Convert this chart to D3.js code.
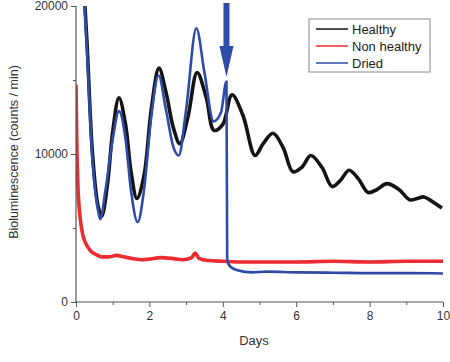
<!DOCTYPE html>
<html>
<head>
<meta charset="utf-8">
<script src="https://cdn.jsdelivr.net/npm/d3@7"></script>
<style>
  body { margin: 0; background: #fff; }
  svg { font-family: "Liberation Sans", Arial, sans-serif; }
</style>
</head>
<body>
<script>
// values
let healthyDays = [0.15,0.3,0.45,0.6,0.7,0.85,1.0,1.17,1.35,1.5,1.66,1.85,2.05,2.26,2.45,2.65,2.83,3.05,3.3,3.55,3.76,4.0,4.25,4.55,4.88,5.1,5.37,5.65,5.91,6.15,6.4,6.7,6.98,7.2,7.44,7.7,7.96,8.2,8.47,8.8,9.1,9.3,9.48,9.7,9.97];
let healthyVals = [24000,17500,10000,6500,5800,7800,11500,13800,12000,8800,7000,8500,13000,15800,14200,11800,10700,12500,15500,13800,11600,12000,14000,12600,9900,10700,11400,10400,8800,9100,9900,9100,7800,8200,8900,8300,7400,7600,8000,7600,6900,7000,7100,6800,6350];

let nonHealthyDays = [0,0.02,0.05,0.1,0.15,0.2,0.3,0.4,0.55,0.7,0.9,1.1,1.3,1.5,1.8,2.0,2.3,2.6,2.9,3.15,3.25,3.35,3.6,4,4.5,5,6,7,8,9,10];
let nonHealthyVals = [14700,11000,8000,6000,5000,4400,3800,3450,3200,3050,3050,3150,3050,2950,2850,2900,3000,2950,2850,3000,3300,2950,2800,2750,2700,2700,2700,2750,2700,2750,2750];

let driedDays = [0.15,0.3,0.45,0.6,0.66,0.8,1.0,1.17,1.35,1.5,1.68,1.85,2.05,2.25,2.45,2.65,2.8,3.0,3.28,3.5,3.75,3.95,4.1,4.12,4.2,4.4,4.8,5.2,6,7,8,9,10];
let driedVals = [24000,17000,9500,6200,5600,7500,11000,12900,11000,7500,5400,7500,12500,15300,13000,10500,9900,13000,18500,15500,12200,12800,14900,2800,2400,2150,2000,2050,2000,1980,1950,1950,1930];

let xTicks = [0, 2, 4, 6, 8, 10];
let xMinor = [1, 3, 5, 7, 9];
let yTicks = [0, 10000, 20000];
let yMinor = [5000, 15000];

let seriesNames = ["Healthy", "Non healthy", "Dried"];
let seriesColors = ["#141414", "#ee2b30", "#2f4ba9"];
let arrowDay = 4.1;

let width = 450, height = 362;
let margin = {top: 6, right: 7, bottom: 60, left: 76};

let svg = d3.select("body").append("svg")
    .attr("width", width)
    .attr("height", height);

let x = d3.scaleLinear([0, 10], [margin.left, width - margin.right]);
let y = d3.scaleLinear([0, 20000], [height - margin.bottom, margin.top]);

svg.append("clipPath").attr("id", "plot")
  .append("rect")
    .attr("x", margin.left)
    .attr("y", margin.top)
    .attr("width", width - margin.right - margin.left + 2)
    .attr("height", height - margin.bottom - margin.top);

function line(curve) {
    return d3.line()
        .x(d => x(d[0]))
        .y(d => y(d[1]))
        .curve(curve);
}

let series = [
    [healthyDays, healthyVals, 3.6, d3.curveCatmullRom.alpha(0.5)],
    [nonHealthyDays, nonHealthyVals, 3.6, d3.curveMonotoneX],
    [driedDays, driedVals, 2.6, d3.curveMonotoneX]
];

let lines = svg.append("g").attr("clip-path", "url(#plot)");
series.forEach((s, i) => {
    lines.append("path")
        .datum(d3.zip(s[0], s[1]))
        .attr("fill", "none")
        .attr("stroke", seriesColors[i])
        .attr("stroke-width", s[2])
        .attr("stroke-linejoin", "round")
        .attr("d", line(s[3]));
});

// axes
let axisColor = "#555";
let xAxis = svg.append("g")
    .attr("transform", `translate(0,${y(0)})`)
    .call(d3.axisBottom(x).tickValues(xTicks).tickSize(5).tickPadding(4));
xAxis.append("g").selectAll("line")
    .data(xMinor)
    .join("line")
      .attr("x1", d => x(d) + 0.5)
      .attr("x2", d => x(d) + 0.5)
      .attr("y1", 0)
      .attr("y2", 3)
      .attr("stroke", axisColor);

let yAxis = svg.append("g")
    .attr("transform", `translate(${x(0)},0)`)
    .call(d3.axisLeft(y).tickValues(yTicks).tickFormat(d3.format("d")).tickSize(5).tickPadding(3));
yAxis.append("g").selectAll("line")
    .data(yMinor)
    .join("line")
      .attr("y1", d => y(d) + 0.5)
      .attr("y2", d => y(d) + 0.5)
      .attr("x1", 0)
      .attr("x2", -3)
      .attr("stroke", axisColor);

[xAxis, yAxis].forEach(g => {
    g.selectAll(".tick line").attr("stroke", axisColor);
    g.selectAll(".tick text").attr("fill", "#333").style("font-size", "12px");
    g.select(".domain").remove();
});
xAxis.append("line")
    .attr("x1", x(0)).attr("x2", x(10))
    .attr("stroke", axisColor).attr("stroke-width", 1.2);
yAxis.append("line")
    .attr("y1", y(0)).attr("y2", y(20000))
    .attr("stroke", axisColor).attr("stroke-width", 1.2);

svg.append("text")
    .attr("x", 254)
    .attr("y", 345)
    .attr("text-anchor", "middle")
    .attr("fill", "#333")
    .style("font-size", "13px")
    .text("Days");

svg.append("text")
    .attr("transform", "translate(18,152) rotate(-90)")
    .attr("text-anchor", "middle")
    .attr("fill", "#333")
    .style("font-size", "12.5px")
    .text("Bioluminescence (counts / min)");

// arrow marking when the sample was dried
let ax = x(arrowDay);
let arrow = svg.append("g").attr("fill", seriesColors[2]);
arrow.append("rect")
    .attr("x", ax - 3)
    .attr("y", y(20000) - 3)
    .attr("width", 6)
    .attr("height", y(17300) - y(20000) + 3);
arrow.append("path")
    .attr("d", `M${ax - 7},${y(17300)} L${ax + 7},${y(17300)} L${ax},${y(15200)} Z`);

// legend
let legend = svg.append("g").attr("transform", "translate(309,19)");
legend.append("rect")
    .attr("width", 121)
    .attr("height", 53)
    .attr("fill", "#fff")
    .attr("stroke", "#888");
seriesNames.forEach((name, i) => {
    let row = legend.append("g").attr("transform", `translate(0,${10 + i * 17})`);
    row.append("line")
        .attr("x1", 7).attr("x2", 39)
        .attr("stroke", seriesColors[i])
        .attr("stroke-width", 1.5);
    row.append("text")
        .attr("x", 43)
        .attr("y", 5)
        .attr("fill", "#222")
        .style("font-size", "13px")
        .text(name);
});
</script>
</body>
</html>
